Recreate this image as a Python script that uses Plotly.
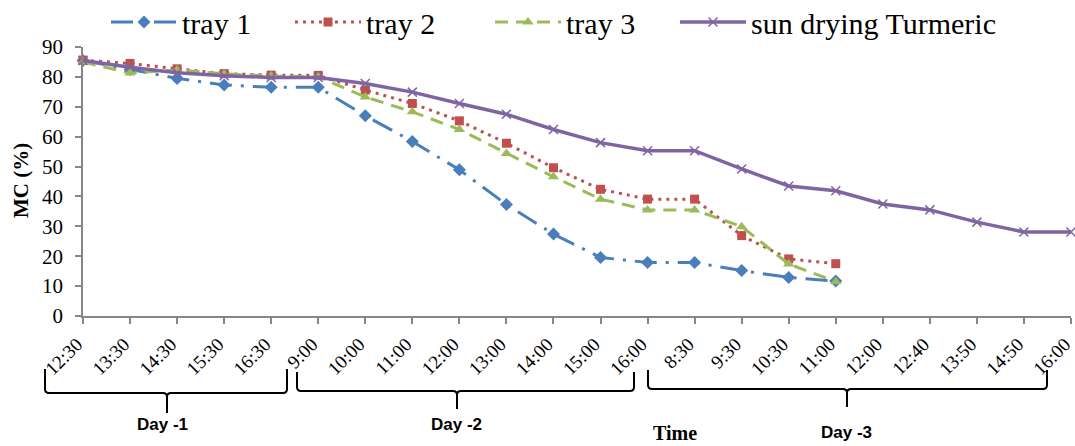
import plotly.graph_objects as go

time_labels = ["12:30", "13:30", "14:30", "15:30", "16:30",
               "9:00", "10:00", "11:00", "12:00", "13:00", "14:00", "15:00", "16:00",
               "8:30", "9:30", "10:30", "11:00", "12:00", "12:40", "13:50", "14:50", "16:00"]

tray1 = [85.5, 82.5, 79.5, 77.3, 76.5, 76.5, 67.0, 58.4, 48.9, 37.3, 27.4, 19.6, 17.9, 17.9, 15.2, 12.9, 11.7]
tray2 = [85.6, 84.5, 82.7, 81.1, 80.6, 80.5, 75.6, 71.1, 65.3, 57.8, 49.6, 42.4, 39.1, 39.1, 26.9, 19.1, 17.5]
tray3 = [85.0, 81.3, 82.3, 81.0, 80.3, 80.0, 73.3, 68.3, 62.4, 54.4, 46.6, 39.1, 35.5, 35.5, 29.9, 17.4, 11.5]
sun = [85.5, 83.2, 81.4, 80.4, 79.8, 79.8, 77.8, 74.9, 71.1, 67.5, 62.4, 58.0, 55.3, 55.3, 49.2, 43.5,
       41.9, 37.5, 35.5, 31.4, 28.1, 28.1]

day_labels = ["Day -1", "Day -2", "Day -3"]

W, H = 1075, 446
L, R, T, B = 83, 1071, 47, 316


def px(x):
    return (x - L) / (R - L)


def py(y):
    return (B - y) / (B - T)


fig = go.Figure()

fig.add_trace(go.Scatter(
    x=list(range(len(tray1))), y=tray1, name="tray 1", mode="lines+markers", legend="legend",
    line=dict(color="#4A7EBB", width=3, dash="22px,9px,3px,9px"),
    marker=dict(symbol="diamond", size=10, color="#4A7EBB"), cliponaxis=False))
fig.add_trace(go.Scatter(
    x=list(range(len(tray2))), y=tray2, name="tray 2", mode="lines+markers", legend="legend2",
    line=dict(color="#C0504D", width=3, dash="3px,5px"),
    marker=dict(symbol="square", size=9, color="#C0504D"), cliponaxis=False))
fig.add_trace(go.Scatter(
    x=list(range(len(tray3))), y=tray3, name="tray 3", mode="lines+markers", legend="legend3",
    line=dict(color="#9BBB59", width=3, dash="13px,8px"),
    marker=dict(symbol="triangle-up", size=10, color="#9BBB59"), cliponaxis=False))
fig.add_trace(go.Scatter(
    x=list(range(len(sun))), y=sun, name="sun drying Turmeric", mode="lines+markers", legend="legend4",
    line=dict(color="#8064A2", width=3.5),
    marker=dict(symbol="x-thin", size=9, line=dict(color="#8064A2", width=1.5)), cliponaxis=False))

shapes = []


def brace(left, right, top, horiz, center, bottom, r=4):
    pts = [
        ("M", left, top), ("L", left, horiz - r), ("Q", left, horiz, left + r, horiz),
        ("L", center - r, horiz), ("Q", center, horiz, center, horiz + r),
        ("L", center, bottom), ("M", center, horiz + r), ("Q", center, horiz, center + r, horiz),
        ("L", right - r, horiz), ("Q", right, horiz, right, horiz - r), ("L", right, top)]
    parts = []
    for p in pts:
        cmd = p[0]
        coords = p[1:]
        s = []
        for i in range(0, len(coords), 2):
            s.append(f"{px(coords[i]):.5f},{py(coords[i+1]):.5f}")
        parts.append(cmd + " ".join(s))
    return dict(type="path", path=" ".join(parts), xref="paper", yref="paper",
                line=dict(color="black", width=2))


shapes.append(brace(45, 287, 369, 393, 167, 413))
shapes.append(brace(297, 634, 372, 391, 457, 409))
shapes.append(brace(648, 1047, 370, 389, 847, 407))

annotations = [
    dict(text="<b>MC (%)</b>", x=px(21), y=py(181), xref="paper", yref="paper", textangle=-90,
         showarrow=False, font=dict(family="Liberation Serif", size=21, color="black"),
         xanchor="center", yanchor="middle"),
    dict(text="<b>Time</b>", x=px(675), y=py(433), xref="paper", yref="paper",
         showarrow=False, font=dict(family="Liberation Serif", size=20, color="black"),
         xanchor="center", yanchor="middle"),
]
for lab, cx, cy in zip(day_labels, [162, 456, 846], [425, 425, 432]):
    annotations.append(dict(text=f"<b>{lab}</b>", x=px(cx), y=py(cy), xref="paper", yref="paper",
                            showarrow=False, font=dict(family="Liberation Sans", size=17, color="black"),
                            xanchor="center", yanchor="middle"))


def leg(xpix):
    return dict(orientation="h", x=px(xpix), y=py(-4), xanchor="left", yanchor="top",
                font=dict(family="Liberation Serif", size=30, color="black"),
                itemwidth=66, bgcolor="rgba(0,0,0,0)")


fig.update_layout(
    width=W, height=H,
    margin=dict(l=L, r=W - R, t=T, b=H - B, autoexpand=False),
    plot_bgcolor="white", paper_bgcolor="white",
    font=dict(family="Liberation Serif", color="black"),
    showlegend=True,
    legend=leg(106), legend2=leg(290), legend3=leg(490), legend4=leg(675),
    xaxis=dict(range=[0, len(time_labels) - 1], tickmode="array",
               tickvals=list(range(len(time_labels))), ticktext=time_labels,
               tickangle=-45, showgrid=False, zeroline=False, automargin=False,
               showline=True, linecolor="#868686", linewidth=1.5,
               ticks="outside", ticklen=6, tickcolor="#868686", tickwidth=1.5,
               tickfont=dict(family="Liberation Serif", size=19, color="black"),
               ticklabelstandoff=2, ticklabelshift=-6, ticklabeloverflow="allow"),
    yaxis=dict(range=[0, 90], tickmode="array", tickvals=list(range(0, 91, 10)),
               showgrid=False, zeroline=False, automargin=False,
               showline=True, linecolor="#868686", linewidth=1.5,
               ticks="outside", ticklen=6, tickcolor="#868686", tickwidth=1.5,
               tickfont=dict(family="Liberation Serif", size=21, color="black"),
               ticklabelstandoff=8),
    shapes=shapes,
    annotations=annotations,
)

fig.write_html("out.html")
